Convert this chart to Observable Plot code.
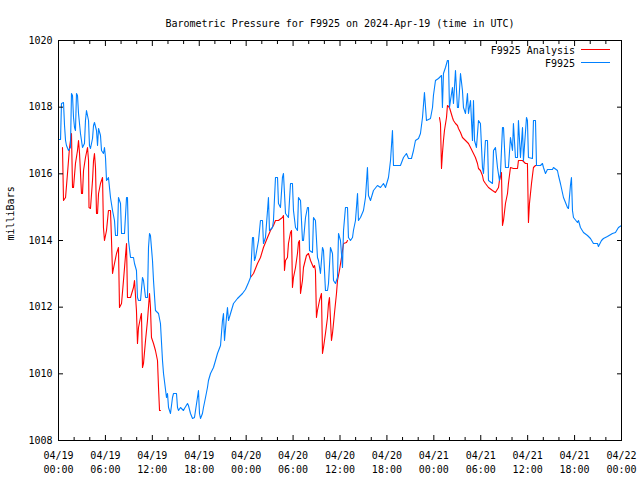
<!DOCTYPE html>
<html><head><meta charset="utf-8">
<script src="https://cdn.jsdelivr.net/npm/d3@7"></script>
<script src="https://cdn.jsdelivr.net/npm/@observablehq/plot@0.6"></script>
<style>body{margin:0;background:#fff}#chart{width:640px;height:480px}</style>
</head><body><div id="chart"></div>
<script>
const title = "Barometric Pressure for F9925 on 2024-Apr-19 (time in UTC)";
const yLabel = "milliBars";
const seriesNames = ["F9925 Analysis", "F9925"];
const seriesColors = ["#ff0000", "#0080ff"];
const startTime = "2024-04-19T00:00:00Z";
const yTicks = [1008, 1010, 1012, 1014, 1016, 1018, 1020];
const xMajorHours = [0, 6, 12, 18, 24, 30, 36, 42, 48, 54, 60, 66, 72];
const xMinorHours = [2, 4, 8, 10, 14, 16, 20, 22, 26, 28, 32, 34, 38, 40, 44, 46, 50, 52, 56, 58, 62, 64, 68, 70];

// F9925 observations (hours since start, mb)
const blueHours = [0,0.26,0.38,0.64,0.77,0.90,1.02,1.28,1.53,1.66,1.79,1.92,2.05,2.17,2.30,2.43,2.56,2.81,3.07,3.32,3.45,3.58,3.84,3.96,4.09,4.35,4.48,4.60,4.86,4.99,5.12,5.37,5.50,5.75,5.88,6.01,6.14,6.39,6.65,6.91,7.16,7.29,7.54,7.67,7.93,8.06,8.44,8.70,8.82,8.95,9.21,9.59,9.72,9.97,10.10,10.23,10.49,10.74,10.87,11.13,11.38,11.51,11.64,11.76,12.02,12.15,12.40,12.79,13.04,13.30,13.43,13.81,13.94,14.07,14.32,14.58,14.71,15.09,15.22,15.35,15.60,15.98,16.11,16.50,16.62,16.88,17.14,17.39,17.77,17.90,18.03,18.16,18.41,18.54,18.80,19.05,19.18,19.44,19.82,20.08,20.33,20.72,20.97,21.10,21.23,21.48,21.61,21.74,22.00,22.38,22.89,23.53,23.91,24.30,24.55,24.81,24.94,25.06,25.19,25.58,25.83,26.09,26.21,26.47,26.73,26.85,26.98,27.37,27.49,27.75,28.01,28.13,28.39,28.64,28.77,29.03,29.41,29.67,29.92,30.05,30.31,30.56,30.69,30.95,31.20,31.33,31.59,31.84,31.97,32.10,32.48,32.61,32.86,33.12,33.25,33.50,33.76,33.89,34.14,34.40,34.53,34.78,35.04,35.17,35.42,35.68,35.81,36.06,36.32,36.45,36.70,36.96,37.08,37.34,37.60,37.72,37.98,38.24,38.36,38.62,39.00,39.26,39.51,39.64,39.90,40.28,40.79,41.18,41.56,41.82,42.20,42.46,42.71,42.84,43.73,44.12,44.50,44.76,45.14,45.40,45.65,46.04,46.29,46.55,46.80,47.06,47.57,47.83,47.95,48.21,48.59,48.98,49.10,49.23,49.49,49.74,49.87,50.00,50.13,50.38,50.51,50.77,50.90,51.02,51.15,51.41,51.66,51.79,52.05,52.30,52.43,52.69,52.94,53.07,53.20,53.45,53.71,53.96,54.22,54.35,54.60,54.86,54.99,55.50,55.63,55.88,56.14,56.39,56.52,56.78,56.91,57.16,57.54,57.80,58.06,58.18,58.44,58.70,58.82,59.08,59.34,59.46,59.85,59.97,60.10,60.61,60.74,61.00,61.13,61.64,61.89,62.02,62.28,62.53,63.17,63.30,63.81,63.94,64.19,64.58,65.09,65.22,65.47,65.60,65.73,65.86,66.37,66.50,66.75,67.14,67.65,68.03,68.41,68.93,69.05,69.44,69.69,70.20,70.84,71.23,71.61,72.00];
const blueMb = [1017.03,1017.03,1018.11,1018.14,1017.45,1017.0,1016.85,1016.7,1016.79,1018.41,1018.35,1017.69,1017.39,1017.3,1018.41,1018.35,1017.81,1017.21,1016.79,1016.91,1017.6,1017.9,1017.6,1016.85,1016.76,1017.06,1017.45,1017.54,1017.3,1016.85,1017.36,1017.15,1016.7,1016.61,1016.79,1016.49,1015.8,1015.89,1015.29,1014.9,1014.6,1014.15,1014.15,1015.29,1015.11,1014.21,1014.21,1015.29,1015.29,1014.0,1013.49,1013.49,1013.31,1013.1,1012.29,1012.2,1012.2,1012.89,1012.8,1012.29,1012.29,1013.79,1014.21,1014.15,1013.4,1012.8,1011.9,1011.81,1011.51,1010.4,1010.01,1009.29,1009.41,1008.99,1008.81,1009.29,1009.41,1009.41,1008.99,1008.9,1008.99,1008.9,1008.96,1009.11,1009.05,1008.81,1008.66,1008.69,1009.29,1009.5,1008.81,1008.66,1008.81,1008.99,1009.29,1009.59,1009.8,1010.01,1010.19,1010.4,1010.61,1010.85,1011.6,1011.81,1011.0,1011.69,1011.99,1011.6,1011.81,1012.11,1012.26,1012.41,1012.53,1012.74,1012.89,1014.09,1014.09,1013.4,1013.49,1014.0,1014.6,1014.6,1013.91,1014.09,1014.9,1015.29,1014.3,1014.39,1014.6,1015.89,1015.89,1015.11,1014.99,1015.89,1016.01,1014.81,1014.69,1015.71,1015.71,1014.9,1014.39,1014.3,1015.29,1015.2,1014.0,1014.0,1014.69,1014.99,1014.99,1013.7,1013.64,1014.69,1014.6,1013.49,1013.4,1013.01,1013.79,1013.7,1012.5,1012.5,1012.71,1013.79,1013.61,1012.8,1012.71,1012.89,1014.21,1014.0,1013.19,1014.3,1014.99,1014.99,1014.09,1014.0,1014.09,1014.3,1014.6,1015.41,1014.6,1014.69,1014.9,1015.29,1016.19,1015.35,1015.2,1015.5,1015.65,1015.59,1015.71,1015.59,1015.89,1016.4,1017.3,1016.25,1016.25,1016.49,1016.61,1016.46,1016.46,1016.7,1017.0,1017.06,1017.21,1017.69,1018.44,1017.6,1017.66,1017.99,1018.35,1018.8,1018.86,1018.95,1017.99,1019.01,1019.19,1019.4,1019.4,1017.99,1018.2,1018.59,1018.11,1019.1,1018.5,1017.99,1017.99,1019.01,1018.5,1017.99,1017.81,1018.41,1017.81,1018.2,1017.0,1018.2,1017.0,1016.79,1017.6,1017.51,1016.19,1016.01,1017.0,1017.0,1015.8,1015.71,1016.7,1016.79,1016.19,1015.8,1016.01,1017.39,1017.39,1016.19,1016.19,1017.09,1016.7,1017.51,1016.49,1016.49,1017.6,1016.49,1017.39,1016.4,1017.69,1017.6,1016.49,1016.46,1017.6,1017.6,1016.25,1016.25,1016.31,1016.19,1016.01,1016.13,1016.13,1016.19,1016.1,1015.95,1015.71,1015.29,1014.99,1014.96,1015.65,1015.89,1014.9,1014.69,1014.54,1014.6,1014.39,1014.24,1014.15,1014.06,1013.91,1013.91,1013.82,1014.0,1014.06,1014.12,1014.21,1014.24,1014.39,1014.45];

// F9925 Analysis: three separate runs (hours since start, mb)
const red1Hours = [0.51,0.64,0.90,1.15,1.28,1.41,1.66,1.79,1.92,2.17,2.43,2.56,2.69,2.94,3.07,3.20,3.45,3.71,3.84,3.90,4.09,4.35,4.48,4.60,4.73,4.86,4.99,5.12,5.37,5.63,5.75,5.88,6.14,6.39,6.65,6.78,6.91,7.03,7.42,7.67,7.80,8.06,8.31,8.57,8.70,8.82,9.21,9.59,9.72,9.97,10.10,10.23,10.49,10.61,10.74,10.87,11.13,11.38,11.64,11.76,11.89,12.15,12.40,12.66,12.79,12.92,13.04];
const red1Mb = [1016.79,1015.2,1015.29,1016.01,1016.4,1016.79,1017.21,1015.59,1015.59,1016.31,1016.7,1017.0,1016.61,1015.41,1015.41,1016.1,1016.49,1016.79,1016.4,1014.99,1014.96,1015.8,1016.4,1016.61,1016.19,1014.81,1014.81,1015.41,1015.71,1015.89,1014.39,1014.0,1014.3,1014.9,1014.9,1014.0,1013.01,1013.16,1013.61,1013.79,1011.99,1012.11,1012.8,1013.55,1013.91,1012.29,1012.29,1012.59,1012.8,1011.9,1010.91,1011.39,1011.69,1011.81,1010.19,1010.31,1011.0,1011.6,1012.41,1011.99,1011.09,1010.91,1010.7,1010.4,1009.59,1008.9,1008.9];
const red2Hours = [24.55,24.94,25.45,25.83,26.21,26.73,27.11,27.49,27.75,28.13,28.64,28.77,28.90,29.03,29.28,29.41,29.67,29.80,29.92,30.05,30.31,30.56,30.69,30.82,30.95,31.20,31.33,31.71,31.97,32.23,32.61,32.74,32.86,32.99,33.12,33.38,33.63,33.76,33.89,34.14,34.40,34.53,34.65,34.91,35.04,35.29,35.55,35.68,35.93,36.19,36.45,36.83,36.96];
const red2Mb = [1012.89,1013.01,1013.31,1013.49,1013.79,1014.09,1014.3,1014.45,1014.6,1014.6,1014.69,1014.75,1013.1,1013.4,1013.49,1013.91,1014.24,1014.3,1012.59,1012.89,1013.19,1013.61,1013.94,1014.0,1012.41,1012.8,1013.19,1013.55,1013.61,1013.4,1013.19,1013.25,1013.1,1011.69,1011.9,1012.2,1012.41,1010.61,1010.79,1011.21,1011.69,1012.11,1012.29,1011.0,1011.21,1011.81,1012.41,1012.8,1013.1,1013.49,1013.91,1013.94,1014.0];
const red3Hours = [48.72,48.85,48.98,49.10,49.23,49.36,49.62,49.74,50.00,50.38,50.51,50.77,51.02,51.15,51.41,51.66,52.05,52.43,52.69,53.07,53.32,53.58,53.71,53.96,54.22,54.35,54.60,54.99,55.50,55.88,56.27,56.39,56.65,56.78,56.91,57.16,57.42,57.54,57.80,58.18,58.70,58.82,59.34,59.72,59.97,60.10,60.23,60.49,60.74,61.00];
const red3Mb = [1017.69,1017.51,1016.16,1016.61,1017.0,1017.3,1017.69,1018.05,1017.99,1017.69,1017.6,1017.51,1017.45,1017.36,1017.24,1017.09,1017.0,1016.91,1016.79,1016.61,1016.49,1016.31,1016.16,1016.1,1015.95,1015.8,1015.71,1015.59,1015.5,1015.44,1015.59,1015.8,1016.04,1014.45,1014.6,1015.11,1015.41,1015.71,1016.19,1016.16,1016.16,1016.4,1016.4,1016.31,1016.31,1014.54,1015.11,1015.71,1016.19,1016.25];

const t0 = Date.parse(startTime);
const toDate = h => new Date(t0 + h * 3600e3);
const blue = blueHours.map((h, i) => ({t: toDate(h), p: blueMb[i]}));
const red = [[red1Hours, red1Mb], [red2Hours, red2Mb], [red3Hours, red3Mb]]
  .flatMap(([hs, ps], s) => hs.map((h, i) => ({t: toDate(h), p: ps[i], seg: s})));
const majorDates = xMajorHours.map(toDate);
const minorDates = xMinorHours.map(toDate);
const font = "'DejaVu Sans Mono', 'Liberation Mono', monospace";
const blank = () => "";

const chart = Plot.plot({
  width: 640, height: 480,
  marginLeft: 58, marginRight: 19, marginTop: 40, marginBottom: 40,
  style: {fontFamily: font, fontSize: "10px", background: "#fff", color: "#000", overflow: "visible"},
  x: {type: "utc", domain: [toDate(0), toDate(72)]},
  y: {domain: [1008, 1020]},
  marks: [
    Plot.line(red, {x: "t", y: "p", z: "seg", stroke: seriesColors[0], strokeWidth: 1.1}),
    Plot.line(blue, {x: "t", y: "p", stroke: seriesColors[1], strokeWidth: 1.1}),
    Plot.frame({stroke: "#000"}),
    Plot.axisY(yTicks, {anchor: "left", tickSize: -5, tickPadding: 11, tickFormat: d => String(d), label: null}),
    Plot.axisY(yTicks, {anchor: "right", tickSize: -5, tickFormat: blank, label: null}),
    Plot.axisX(majorDates, {anchor: "bottom", tickSize: -5, tickPadding: 14, lineHeight: 1.4, tickFormat: d3.utcFormat("%m/%d\n%H:%M"), label: null}),
    Plot.axisX(majorDates, {anchor: "top", tickSize: -5, tickFormat: blank, label: null}),
    Plot.axisX(minorDates, {anchor: "bottom", tickSize: -3, tickFormat: blank, label: null}),
    Plot.axisX(minorDates, {anchor: "top", tickSize: -3, tickFormat: blank, label: null}),
    Plot.text([title], {frameAnchor: "top", dy: -21, fontSize: 10}),
    Plot.text([yLabel], {frameAnchor: "left", dx: -48, rotate: -90, fontSize: 10})
  ]
});

// legend (top right, inside the frame)
const svg = d3.select(chart);
seriesNames.forEach((name, i) => {
  const y = 50 + i * 13;
  svg.append("text").attr("x", 575).attr("y", y).attr("dy", "0.35em")
    .attr("text-anchor", "end").attr("font-family", font).attr("font-size", 10).text(name);
  svg.append("line").attr("x1", 581).attr("x2", 610).attr("y1", y - 0.5).attr("y2", y - 0.5)
    .attr("stroke", seriesColors[i]).attr("stroke-width", 1);
});
document.getElementById("chart").append(chart);
</script>
</body></html>
